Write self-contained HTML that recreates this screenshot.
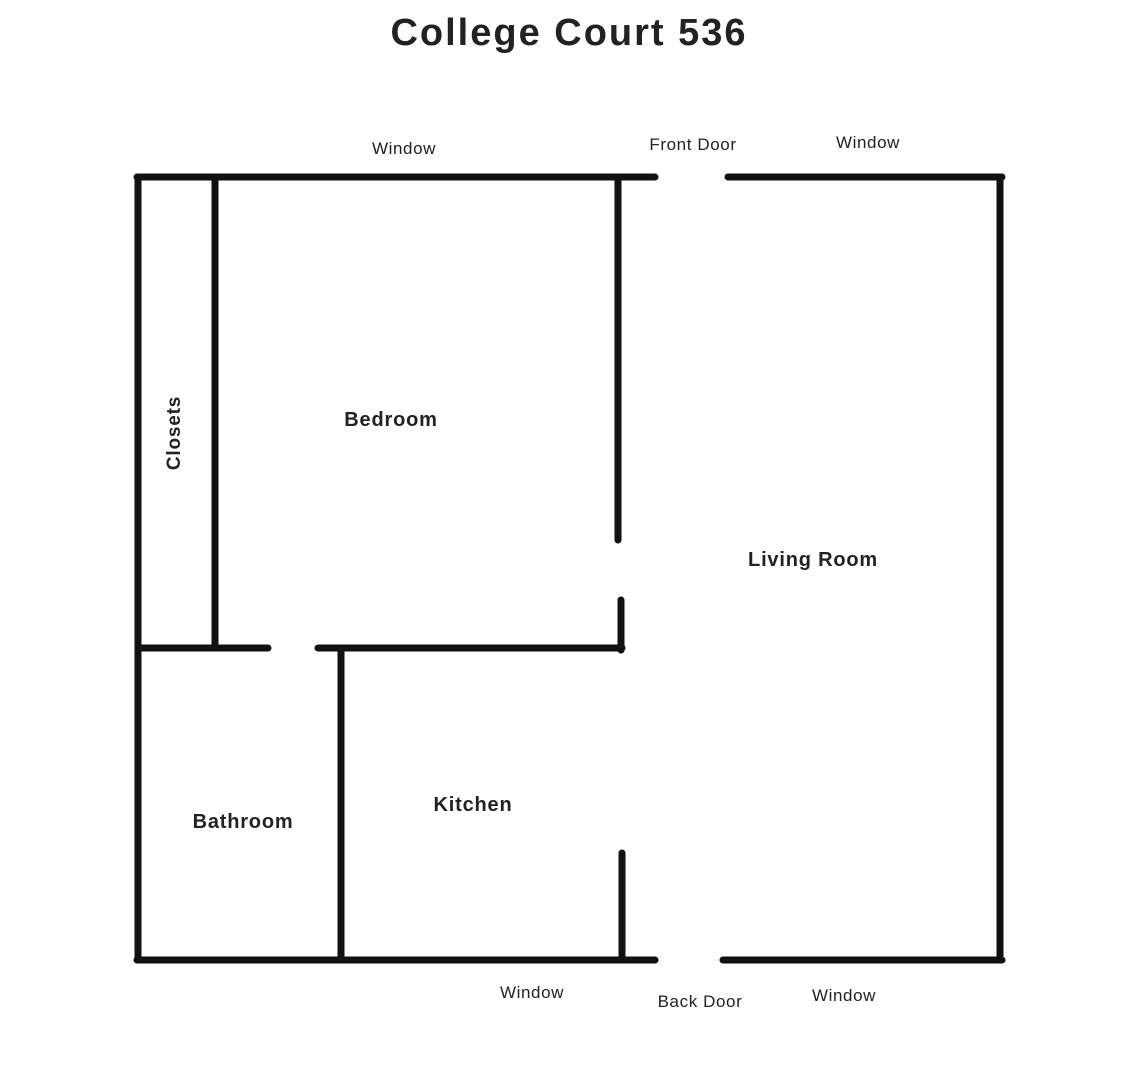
<!DOCTYPE html>
<html><head><style>
html,body{margin:0;padding:0;background:#fff;}
body{width:1138px;height:1080px;position:relative;overflow:hidden;font-family:"Liberation Sans",sans-serif;}
</style></head><body>
<svg width="1138" height="1080" xmlns="http://www.w3.org/2000/svg" style="position:absolute;left:0;top:0">
<g stroke="#111" stroke-width="7" stroke-linecap="round" fill="none">
<line x1="137" y1="177" x2="655" y2="177"/>
<line x1="728" y1="177" x2="1002" y2="177"/>
<line x1="1000" y1="177" x2="1000" y2="960"/>
<line x1="137" y1="960" x2="655" y2="960"/>
<line x1="723" y1="960" x2="1002" y2="960"/>
<line x1="138" y1="177" x2="138" y2="960"/>
<line x1="215" y1="180" x2="215" y2="645"/>
<line x1="138" y1="648" x2="268" y2="648"/>
<line x1="318" y1="648" x2="622" y2="648"/>
<line x1="618" y1="180" x2="618" y2="540"/>
<line x1="621" y1="600" x2="621" y2="650"/>
<line x1="341" y1="650" x2="341" y2="960"/>
<line x1="622" y1="853" x2="622" y2="960"/>
</g>
<g fill="#222" font-family="Liberation Sans, sans-serif">
<text x="569" y="45" font-size="38" font-weight="bold" text-anchor="middle" letter-spacing="2">College Court 536</text>
<g font-size="17" letter-spacing="0.6">
<text x="404" y="154" text-anchor="middle">Window</text>
<text x="693" y="150" text-anchor="middle">Front Door</text>
<text x="868" y="148" text-anchor="middle">Window</text>
<text x="532" y="998" text-anchor="middle">Window</text>
<text x="700" y="1007" text-anchor="middle">Back Door</text>
<text x="844" y="1001" text-anchor="middle">Window</text>
</g>
<g font-size="20" font-weight="bold" letter-spacing="0.8">
<text x="391" y="426" text-anchor="middle">Bedroom</text>
<text x="813" y="566" text-anchor="middle">Living Room</text>
<text x="243" y="828" text-anchor="middle">Bathroom</text>
<text x="473" y="811" text-anchor="middle">Kitchen</text>
</g>
<text x="0" y="0" font-size="19" font-weight="bold" text-anchor="middle" letter-spacing="0.8" transform="translate(180,433) rotate(-90)">Closets</text>
</g>
</svg>
</body></html>
